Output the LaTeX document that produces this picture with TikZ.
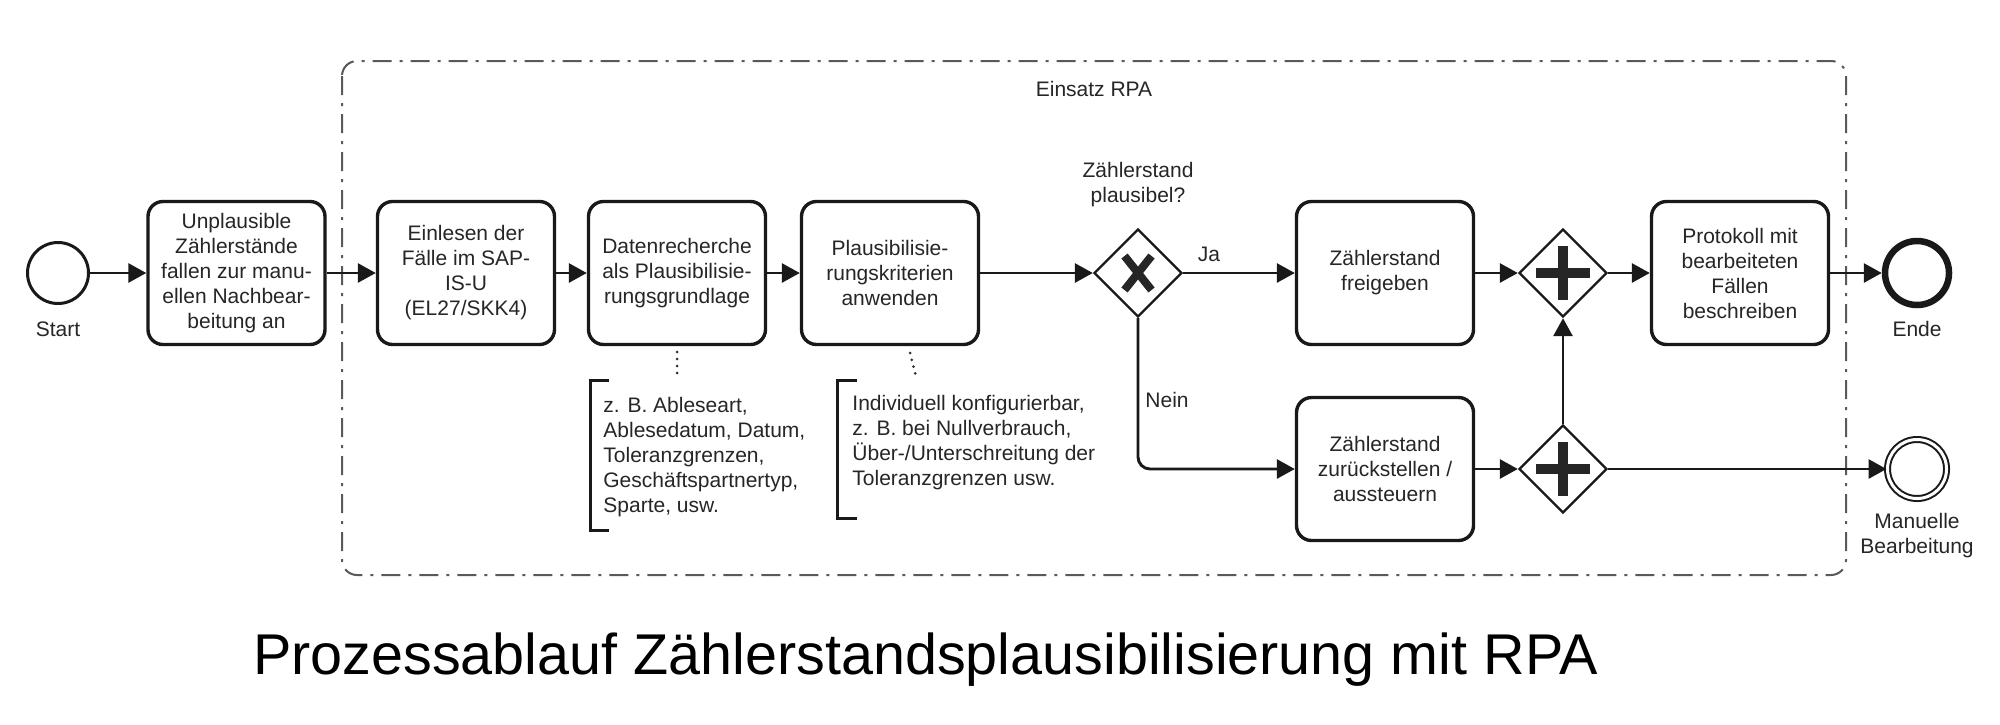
\documentclass[tikz,border=0pt]{standalone}
\usepackage{fontspec}
\setmainfont{Liberation Sans}
\usetikzlibrary{arrows.meta,shapes.geometric,calc}
\begin{document}
\begin{tikzpicture}[x=0.5pt,y=-0.5pt,
  dtext/.style={font=\fontsize{10.5pt}{12.5pt}\selectfont, text=black!85},
  task/.style={dtext, draw=black!90, rounded corners=7.5pt, line width=1.7pt, minimum width=88.5pt, minimum height=71.5pt, align=center, inner sep=0pt},
  flow/.style={draw=black!90, line width=1.45pt, -{Triangle[length=9pt,width=9.5pt]}},
  gw/.style={diamond, draw=black!90, line width=1.2pt, minimum width=44pt, minimum height=44pt, inner sep=0pt, fill=white},
  gwsign/.style={draw=black!85},
  evt/.style={circle, draw=black!90, inner sep=0pt},
  lbl/.style={dtext, align=center},
  grp/.style={draw=black!65, line width=1pt, dash pattern=on 9.5pt off 4pt on 1.5pt off 4pt, rounded corners=7.5pt},
  assoc/.style={draw=black!80, line width=1.5pt, line cap=round, dash pattern=on 0pt off 3.5pt},
  brk/.style={draw=black!90, line width=1.5pt},
  ann/.style={dtext, align=left, anchor=west, inner sep=0pt},
]
\useasboundingbox (0,0) rectangle (2000,724);
\fill[white] (0,0) rectangle (2000,724);

% group
\draw[grp] (342,61) rectangle (1846,575);
\node[lbl] (grplbl) at (1094,89) {Einsatz RPA};

% events
\node[evt, line width=1.5pt, minimum size=30.5pt] (start) at (58,273) {};
\node[lbl] (startlbl) at (58,329) {Start};
\node[evt, line width=3.25pt, minimum size=32pt] (ende) at (1917,273) {};
\node[lbl] (endelbl) at (1917,329) {Ende};
\node[evt, line width=1pt, double, double distance=1.5pt, minimum size=29.5pt] (man) at (1917,469) {};
\node[lbl] (manlbl) at (1917,535.5) {Manuelle\\Bearbeitung};

% tasks
\node[task] (b1) at (236.5,273) {Unplausible\\Zählerstände\\fallen zur manu-\\ellen Nachbear-\\beitung an};
\node[task] (b2) at (466,273) {Einlesen der\\Fälle im SAP-\\IS-U\\(EL27/SKK4)};
\node[task] (b3) at (677,273) {Datenrecherche\\als Plausibilisie-\\rungsgrundlage};
\node[task] (b4) at (890,273) {Plausibilisie-\\rungskriterien\\anwenden};
\node[task] (b5) at (1385,273) {Zählerstand\\freigeben};
\node[task] (b6) at (1385,469) {Zählerstand\\zurückstellen /\\aussteuern};
\node[task] (b7) at (1740,273) {Protokoll mit\\bearbeiteten\\Fällen\\beschreiben};

% gateways
\node[gw] (gx) at (1138,273) {};
\node[lbl] (gxlbl) at (1138,185) {Zählerstand\\plausibel?};
\node[gw] (gp1) at (1563,273) {};
\node[gw] (gp2) at (1563,469) {};

\draw[gwsign, line width=4pt] ($(gx)+(-13.5,-17)$) -- ($(gx)+(13.5,17)$);
\draw[gwsign, line width=4pt] ($(gx)+(13.5,-17)$) -- ($(gx)+(-13.5,17)$);
\foreach \g in {gp1,gp2}{
  \draw[gwsign, line width=5pt] ($(\g)+(-27,0)$) -- ($(\g)+(27,0)$);
  \draw[gwsign, line width=5pt] ($(\g)+(0,-27)$) -- ($(\g)+(0,27)$);
}

% flows
\draw[flow] (start) -- (b1);
\draw[flow] (b1) -- (b2);
\draw[flow] (b2) -- (b3);
\draw[flow] (b3) -- (b4);
\draw[flow] (b4) -- (gx);
\draw[flow] (gx) -- (b5);
\draw[flow] (b5) -- (gp1);
\draw[flow] (gp1) -- (b7);
\draw[flow] (b7) -- (ende);
\draw[flow, rounded corners=6pt] (gx.south) |- (b6.west);
\draw[flow] (b6) -- (gp2);
\draw[flow] (gp2) -- (gp1);
\draw[flow] (gp2) -- (man);

\node[lbl] (ja) at (1209,254) {Ja};
\node[lbl] (nein) at (1167,400) {Nein};

% annotations
\node[ann] (a1) at (603,457) {z. B. Ableseart,\\Ablesedatum, Datum,\\Toleranzgrenzen,\\Geschäftspartnertyp,\\Sparte, usw.};
\coordinate (a1t) at (609,380);
\coordinate (a1b) at (609,530);
\draw[brk] (a1t) -- (590,380) -- (590,530) -- (a1b);
\coordinate (a1s) at (677,352);
\coordinate (a1e) at (677,374);
\draw[assoc] (a1s) -- (a1e);

\node[ann] (a2) at (852,442.5) {Individuell konfigurierbar,\\z. B. bei Nullverbrauch,\\Über-/Unterschreitung der\\Toleranzgrenzen usw.};
\coordinate (a2t) at (857,380);
\coordinate (a2b) at (857,518);
\draw[brk] (a2t) -- (837,380) -- (837,518) -- (a2b);
\coordinate (a2s) at (910,353);
\coordinate (a2e) at (917,380);
\draw[assoc] (a2s) -- (a2e);

% caption
\node[font=\fontsize{28.75pt}{34pt}\selectfont, anchor=base, inner sep=0pt] (cap) at (925.5,674) {Prozessablauf Zählerstandsplausibilisierung mit RPA};
\end{tikzpicture}
\end{document}
